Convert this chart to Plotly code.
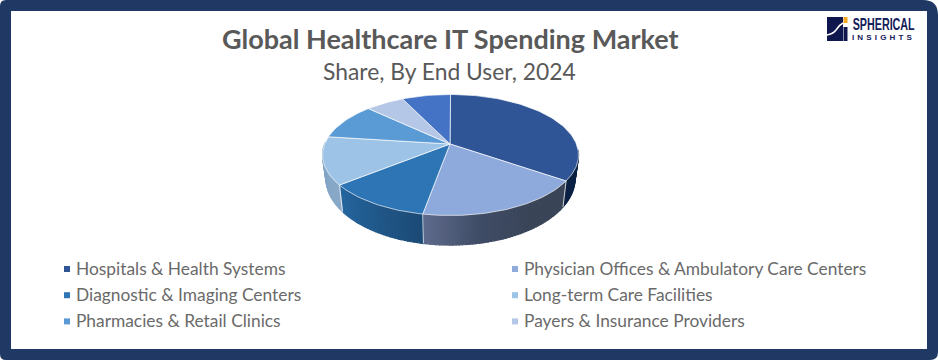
import math
import plotly.graph_objects as go

categories = ["Hospitals & Health Systems", "Physician Offices & Ambulatory Care Centers",
              "Diagnostic & Imaging Centers", "Long-term Care Facilities",
              "Pharmacies & Retail Clinics", "Payers & Insurance Providers", "Others"]
shares = [34.6, 18.3, 11.4, 12.7, 9.9, 5.8, 7.3]
colors = ["#2f5597", "#8ea9db", "#2e75b6", "#9dc3e6", "#5b9bd5", "#b4c7e7", "#4472c4"]
# side shading of each slice, in clockwise order along the rim
side_stops = [["#0c2244", "#0c2244"],
              ["#3a4558", "#3a4558", "#3f4c66", "#5f6b8c"],
              ["#1c4a75", "#25669f"],
              ["#8aa9c8", "#7fa3c4"],
              ["#5b9bd5", "#5b9bd5"], ["#b4c7e7", "#b4c7e7"], ["#4472c4", "#4472c4"]]
title = "Global Healthcare IT Spending Market"
subtitle = "Share, By End User, 2024"

W, H = 938, 360
CX, CY, RX, RY = 450.5, 155.0, 128.0, 60.5
ECC = 0.182
K = math.sqrt((1 - ECC) / (1 + ECC))
APEX = (450.0, CY - ECC * RY)


def rim_angle(share_cum, total):
    a = share_cum / total * 2 * math.pi
    return 2 * math.atan2(K * abs(math.sin(a / 2)), math.cos(a / 2))


def rim(phi):
    return CX + RX * math.sin(phi), CY - RY * math.cos(phi)


def low(x, y):
    return CX + 0.973 * (x - CX), y + 22 + (y - 140) * 0.1


def hex2rgb(h):
    return [int(h[i:i + 2], 16) for i in (1, 3, 5)]


def mix(stops, t):
    n = len(stops) - 1
    p = min(max(t, 0), 1) * n
    i = min(int(p), n - 1)
    f = p - i
    a, b = hex2rgb(stops[i]), hex2rgb(stops[i + 1])
    return "rgb(%d,%d,%d)" % tuple(round(a[j] + (b[j] - a[j]) * f) for j in range(3))


def poly(xs, ys, fill, line=None, width=1.2):
    return go.Scatter(x=xs, y=ys, mode="lines", fill="toself", fillcolor=fill,
                      line=dict(color=line or fill, width=width),
                      hoverinfo="skip", showlegend=False)


fig = go.Figure()
edges = [0.0]
for s in shares:
    edges.append(edges[-1] + s)
total = edges[-1]
phis = [rim_angle(e, total) for e in edges]
VIS0, VIS1 = math.radians(85), math.radians(282)

for i in range(len(shares)):
    a, b = max(phis[i], VIS0), min(phis[i + 1], VIS1)
    if b <= a:
        continue
    n = max(2, int(math.degrees(b - a) / 1.5))
    for j in range(n):
        p0 = a + (b - a) * j / n
        p1 = a + (b - a) * (j + 1) / n
        r0, r1 = rim(p0), rim(p1)
        l0, l1 = low(*r0), low(*r1)
        t = (j + 0.5) / n
        fig.add_trace(poly([r0[0], r1[0], l1[0], l0[0], r0[0]],
                           [r0[1], r1[1], l1[1], l0[1], r0[1]],
                           mix(side_stops[i], t)))

for i in range(1, len(shares)):
    if VIS0 < phis[i] < VIS1:
        r0 = rim(phis[i])
        l0 = low(*r0)
        fig.add_trace(go.Scatter(x=[r0[0], l0[0]], y=[r0[1], l0[1]], mode="lines",
                                 line=dict(color="rgba(255,255,255,0.75)", width=1),
                                 hoverinfo="skip", showlegend=False))

for i in range(len(shares)):
    n = max(3, int(math.degrees(phis[i + 1] - phis[i]) / 1.5))
    pts = [rim(phis[i] + (phis[i + 1] - phis[i]) * j / n) for j in range(n + 1)]
    xs = [APEX[0]] + [p[0] for p in pts] + [APEX[0]]
    ys = [APEX[1]] + [p[1] for p in pts] + [APEX[1]]
    fig.add_trace(poly(xs, ys, colors[i], "rgba(255,255,255,0.65)", 1))

# legend: two columns, three rows (the seventh slice has no entry)
leg_x, leg_y, leg_t = [], [], []
for i, name in enumerate(categories[:6]):
    leg_x.append(67 if i % 2 == 0 else 515)
    leg_y.append(269 + (i // 2) * 26.2)
    leg_t.append(name)
fig.add_trace(go.Scatter(x=leg_x, y=leg_y, mode="markers",
                         marker=dict(symbol="square", size=6, color=colors[:6], line=dict(width=0)),
                         hoverinfo="skip", showlegend=False))

annotations = []
for x, y, t in zip(leg_x, leg_y, leg_t):
    annotations.append(dict(x=x + 7, y=y - 1, text=t, xanchor="left", yanchor="middle", showarrow=False,
                            font=dict(family="Lato", size=17.35, color="#6a6a6a")))
annotations.append(dict(x=450, y=38, text="<b>%s</b>" % title, showarrow=False, xanchor="center", yanchor="middle",
                        font=dict(family="Lato", size=27, color="#595959")))
annotations.append(dict(x=449.5, y=71, text=subtitle, showarrow=False, xanchor="center", yanchor="middle",
                        font=dict(family="Lato", size=22.85, color="#595959")))
annotations.append(dict(x=883, y=24, text="SPHERICAL", showarrow=False, xanchor="center", yanchor="middle",
                        font=dict(family="Liberation Sans", size=16.5, weight=700, color="#14205a")))
annotations.append(dict(x=882, y=37, text="INSIGHTS", showarrow=False, xanchor="center", yanchor="middle",
                        font=dict(family="Liberation Sans", size=8, weight=700, color="#14205a")))
for a in annotations:
    a.update(xref="x", yref="y")

NAVY = "#1f3864"
LOGO = "#10174f"
shapes = [
    dict(type="path", layer="below", fillcolor=NAVY, line=dict(width=0),
         path="M6,0 L923,0 Q938,0 938,15 L938,352 Q938,360 930,360 L6,360 Q0,360 0,354 L0,6 Q0,0 6,0 Z"),
    dict(type="rect", layer="below", x0=11, y0=11, x1=927, y1=349, fillcolor="white", line=dict(width=0)),
    dict(type="rect", x0=827, y0=17, x1=843, y1=41, fillcolor=LOGO, line=dict(width=0)),
    dict(type="rect", x0=843.5, y0=17, x1=847.5, y1=23, fillcolor="#f5a623", line=dict(width=0)),
    dict(type="rect", x0=843.5, y0=27, x1=847.5, y1=41, fillcolor=LOGO, line=dict(width=0)),
    dict(type="path", line=dict(color="white", width=1.5), path="M827,35 Q833,34 836,30 Q839,25 843,23"),
]

fig.update_layout(
    width=W, height=H, margin=dict(l=0, r=0, t=0, b=0), paper_bgcolor="white", plot_bgcolor="rgba(0,0,0,0)",
    xaxis=dict(range=[0, W], visible=False, fixedrange=True),
    yaxis=dict(range=[H, 0], visible=False, fixedrange=True),
    annotations=annotations, shapes=shapes, showlegend=False,
)
squeeze = """
document.body.style.margin='0';document.body.style.overflow='hidden';
document.querySelectorAll('.annotation-text').forEach(function(t){
  if(t.textContent==='SPHERICAL'){t.setAttribute('textLength','62');t.setAttribute('lengthAdjust','spacingAndGlyphs');}
  if(t.textContent==='INSIGHTS'){t.setAttribute('textLength','60');t.setAttribute('lengthAdjust','spacing');}
});
"""
fig.write_html("out.html", config=dict(displayModeBar=False), post_script=squeeze)
